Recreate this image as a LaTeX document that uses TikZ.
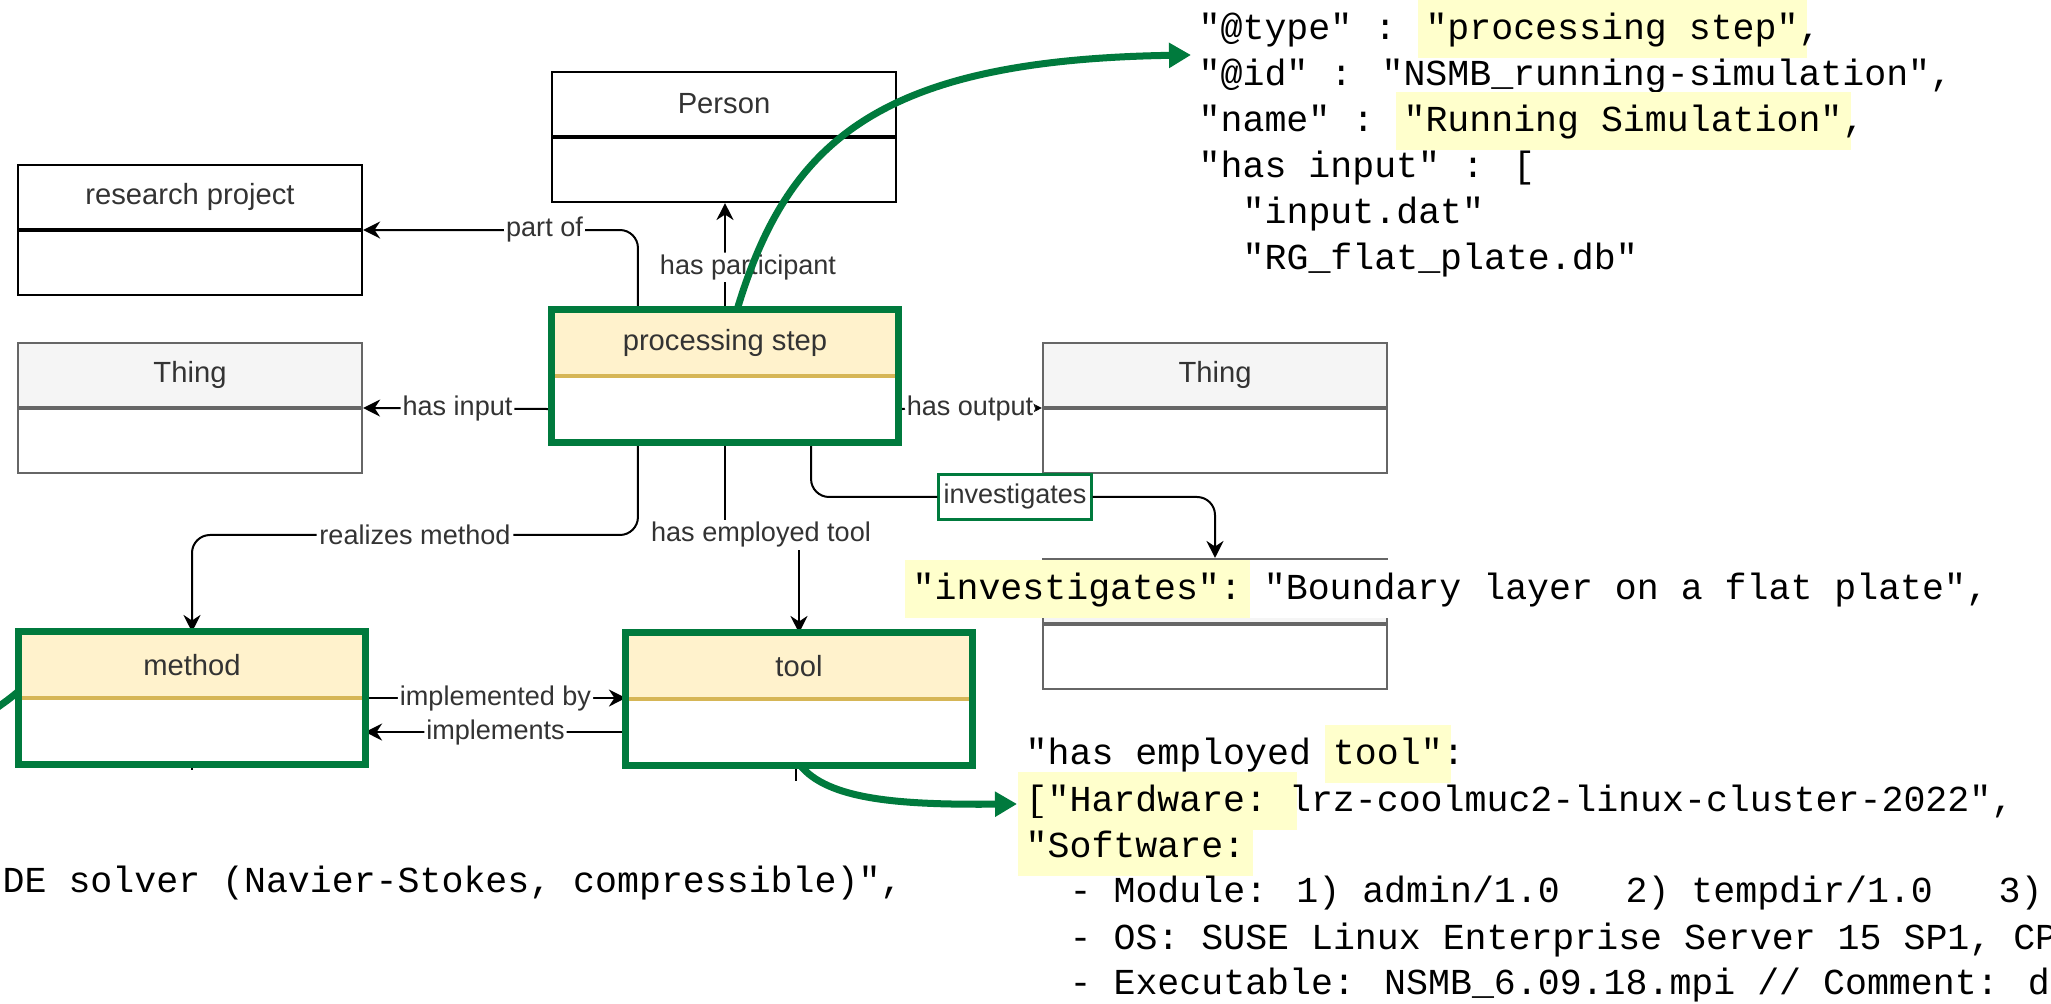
\documentclass[tikz,border=0pt]{standalone}
\usepackage{fontspec}
\setmainfont{Liberation Sans}
\newfontfamily\jsonfont{Liberation Mono}[Ligatures=TeXOff]
\usetikzlibrary{shapes,positioning,arrows.meta}
\definecolor{hlgreen}{RGB}{0,122,61}
\definecolor{hlyellow}{RGB}{255,255,204}
\definecolor{headfill}{RGB}{255,242,204}
\definecolor{headline}{RGB}{214,182,86}
\definecolor{thingfill}{RGB}{245,245,245}
\definecolor{thingline}{RGB}{102,102,102}
\definecolor{labeltext}{RGB}{51,51,51}
% yellow marker behind a piece of json
\newcommand{\hlt}[1]{{\setlength{\fboxsep}{0.08cm}\kern-\fboxsep\colorbox{hlyellow}{\rule[-0.10cm]{0pt}{0.42cm}#1}\kern-\fboxsep}}

\begin{document}
\begin{tikzpicture}[x=0.01cm,y=-0.01cm]
    \tikzstyle{classhead}=[draw, minimum width=3.44cm, minimum height=0.64cm, inner sep=0pt, fill=white, text=labeltext, font=\fontsize{8.3}{10}\selectfont, line width=0.02cm]
    \tikzstyle{classbody}=[draw, minimum width=3.44cm, minimum height=0.64cm, inner sep=0pt, fill=white, line width=0.02cm]
    \tikzstyle{thinghead}=[classhead, draw=thingline, fill=thingfill]
    \tikzstyle{thingbody}=[classbody, draw=thingline]
    \tikzstyle{hlhead}=[classhead, draw=headline, fill=headfill]
    \tikzstyle{hlbody}=[classbody, draw=headline]
    \tikzstyle{greenframe}=[draw=hlgreen, line width=0.07cm]
    \tikzstyle{plainlink}=[draw, line width=0.02cm, rounded corners=0.18cm]
    \tikzstyle{link}=[plainlink, -{Stealth[length=0.17cm,width=0.17cm]}]
    \tikzstyle{linklabel}=[fill=white, inner sep=0.02cm, text=labeltext, font=\fontsize{7.7}{9}\selectfont]
    \tikzstyle{greenarrow}=[draw=hlgreen, line width=0.07cm, -{Triangle[length=0.22cm,width=0.24cm]}]
    \tikzstyle{json}=[anchor=base west, inner sep=0pt, font=\jsonfont\fontsize{10.4}{12}\selectfont]

    \path[use as bounding box, fill=white] (0,0) rectangle (2051,1004);

    % class boxes
    \node[classhead] (person) at (724,104) {Person};
    \node[classbody, below=0pt of person] (personbody) {};
    \node[classhead] (project) at (190,197) {research project};
    \node[classbody, below=0pt of project] (projectbody) {};
    \node[thinghead] (input) at (190,375) {Thing};
    \node[thingbody, below=0pt of input] (inputbody) {};
    \node[hlhead] (step) at (725,343) {processing step};
    \node[hlbody, below=0pt of step] (stepbody) {};
    \node[thinghead] (output) at (1215,375) {Thing};
    \node[thingbody, below=0pt of output] (outputbody) {};
    \node[thinghead] (topic) at (1215,591) {};
    \node[thingbody, below=0pt of topic] (topicbody) {};
    \node[hlhead] (method) at (192,665) {method};
    \node[hlbody, below=0pt of method] (methodbody) {};
    \node[hlhead] (tool) at (799,666) {tool};
    \node[hlbody, below=0pt of tool] (toolbody) {};

    % relations
    \draw[link] ([xshift=-0.87cm]step.north) |- (project.south east) node[linklabel, pos=0.67] {part of};
    \draw[link] (step.north) -- (step.north |- personbody.south) node[linklabel, pos=0.4, xshift=0.23cm] {has participant};
    \draw[link] (stepbody.west) -- (input.south east) node[linklabel, midway] {has input};
    \draw[link] (stepbody.east) -- (output.south west) node[linklabel, midway] {has output};
    \node[linklabel, draw=hlgreen, line width=0.03cm, minimum width=1.52cm, minimum height=0.44cm] (invlabel) at (1015,497) {investigates};
    \draw[plainlink] ([xshift=0.86cm]stepbody.south) |- (invlabel.west);
    \draw[link] (invlabel.east) -| (topic.north);
    \node[linklabel] (rmlabel) at (415,535) {realizes method};
    \draw[plainlink] ([xshift=-0.87cm]stepbody.south) |- (rmlabel.east);
    \draw[link] (rmlabel.west) -| (method.north);
    \node[linklabel] (etlabel) at (761,535) {has employed tool};
    \draw[plainlink] (stepbody.south) -- (stepbody.south |- etlabel.north);
    \draw[link] (etlabel.south -| tool.north) -- (tool.north);
    \draw[link] (method.south east) -- (method.south east -| tool.west) node[linklabel, midway] {implemented by};
    \draw[link] (toolbody.west) -- (toolbody.west -| methodbody.east) node[linklabel, midway] {implements};
    \draw[plainlink] (methodbody.south) -- ++(0,6);
    \draw[plainlink] ([xshift=-0.03cm]toolbody.south) -- ++(0,16);

    % json snippets
    \node[json] (j1) at (1198,40) {"@type" : \hlt{"processing step"},};
    \node[json] (j2) at (1198,86) {"@id" : "NSMB\_running-simulation",};
    \node[json] (j3) at (1198,132) {"name" : \hlt{"Running Simulation"},};
    \node[json] (j4) at (1198,178) {"has input" : [};
    \node[json] (j5) at (1242,224) {"input.dat"};
    \node[json] (j6) at (1242,270) {"RG\_flat\_plate.db"};
    \node[json, fill=white] (jinv) at (912,600) {\hlt{"investigates":} "Boundary layer on a flat plate",};
    \node[json] (t1) at (1025,765) {"has employed \hlt{tool"}:};
    \node[json] (t2) at (1025,812) {\hlt{["Hardware:~}lrz-coolmuc2-linux-cluster-2022",};
    \node[json] (t3) at (1025,858) {\hlt{"Software:}};
    \node[json] (t4) at (1069,903) {- Module: 1) admin/1.0~~~2) tempdir/1.0~~~3)};
    \node[json] (t5) at (1069,950) {- OS: SUSE Linux Enterprise Server 15 SP1, CP};
    \node[json] (t6) at (1069,995) {- Executable: NSMB\_6.09.18.mpi // Comment: di};
    \node[json] (solver) at (2,893) {DE solver (Navier-Stokes, compressible)",};

    % highlight frames and pointers
    \draw[greenframe] (step.north west) rectangle (stepbody.south east);
    \draw[greenframe] (method.north west) rectangle (methodbody.south east);
    \draw[greenframe] (tool.north west) rectangle (toolbody.south east);
    \coordinate (steptip) at (1191,55);
    \coordinate (tooltip) at (1017,804);
    \coordinate (methodout) at (-12,714);
    \draw[greenarrow] ([xshift=0.12cm]step.north) .. controls (788,140) and (880,60) .. (steptip);
    \draw[greenarrow] ([xshift=0.01cm]toolbody.south) .. controls (828,800) and (900,805) .. (tooltip);
    \draw[greenframe] ([yshift=0.07cm]method.south west) .. controls (8,700) .. (methodout);
\end{tikzpicture}
\end{document}
